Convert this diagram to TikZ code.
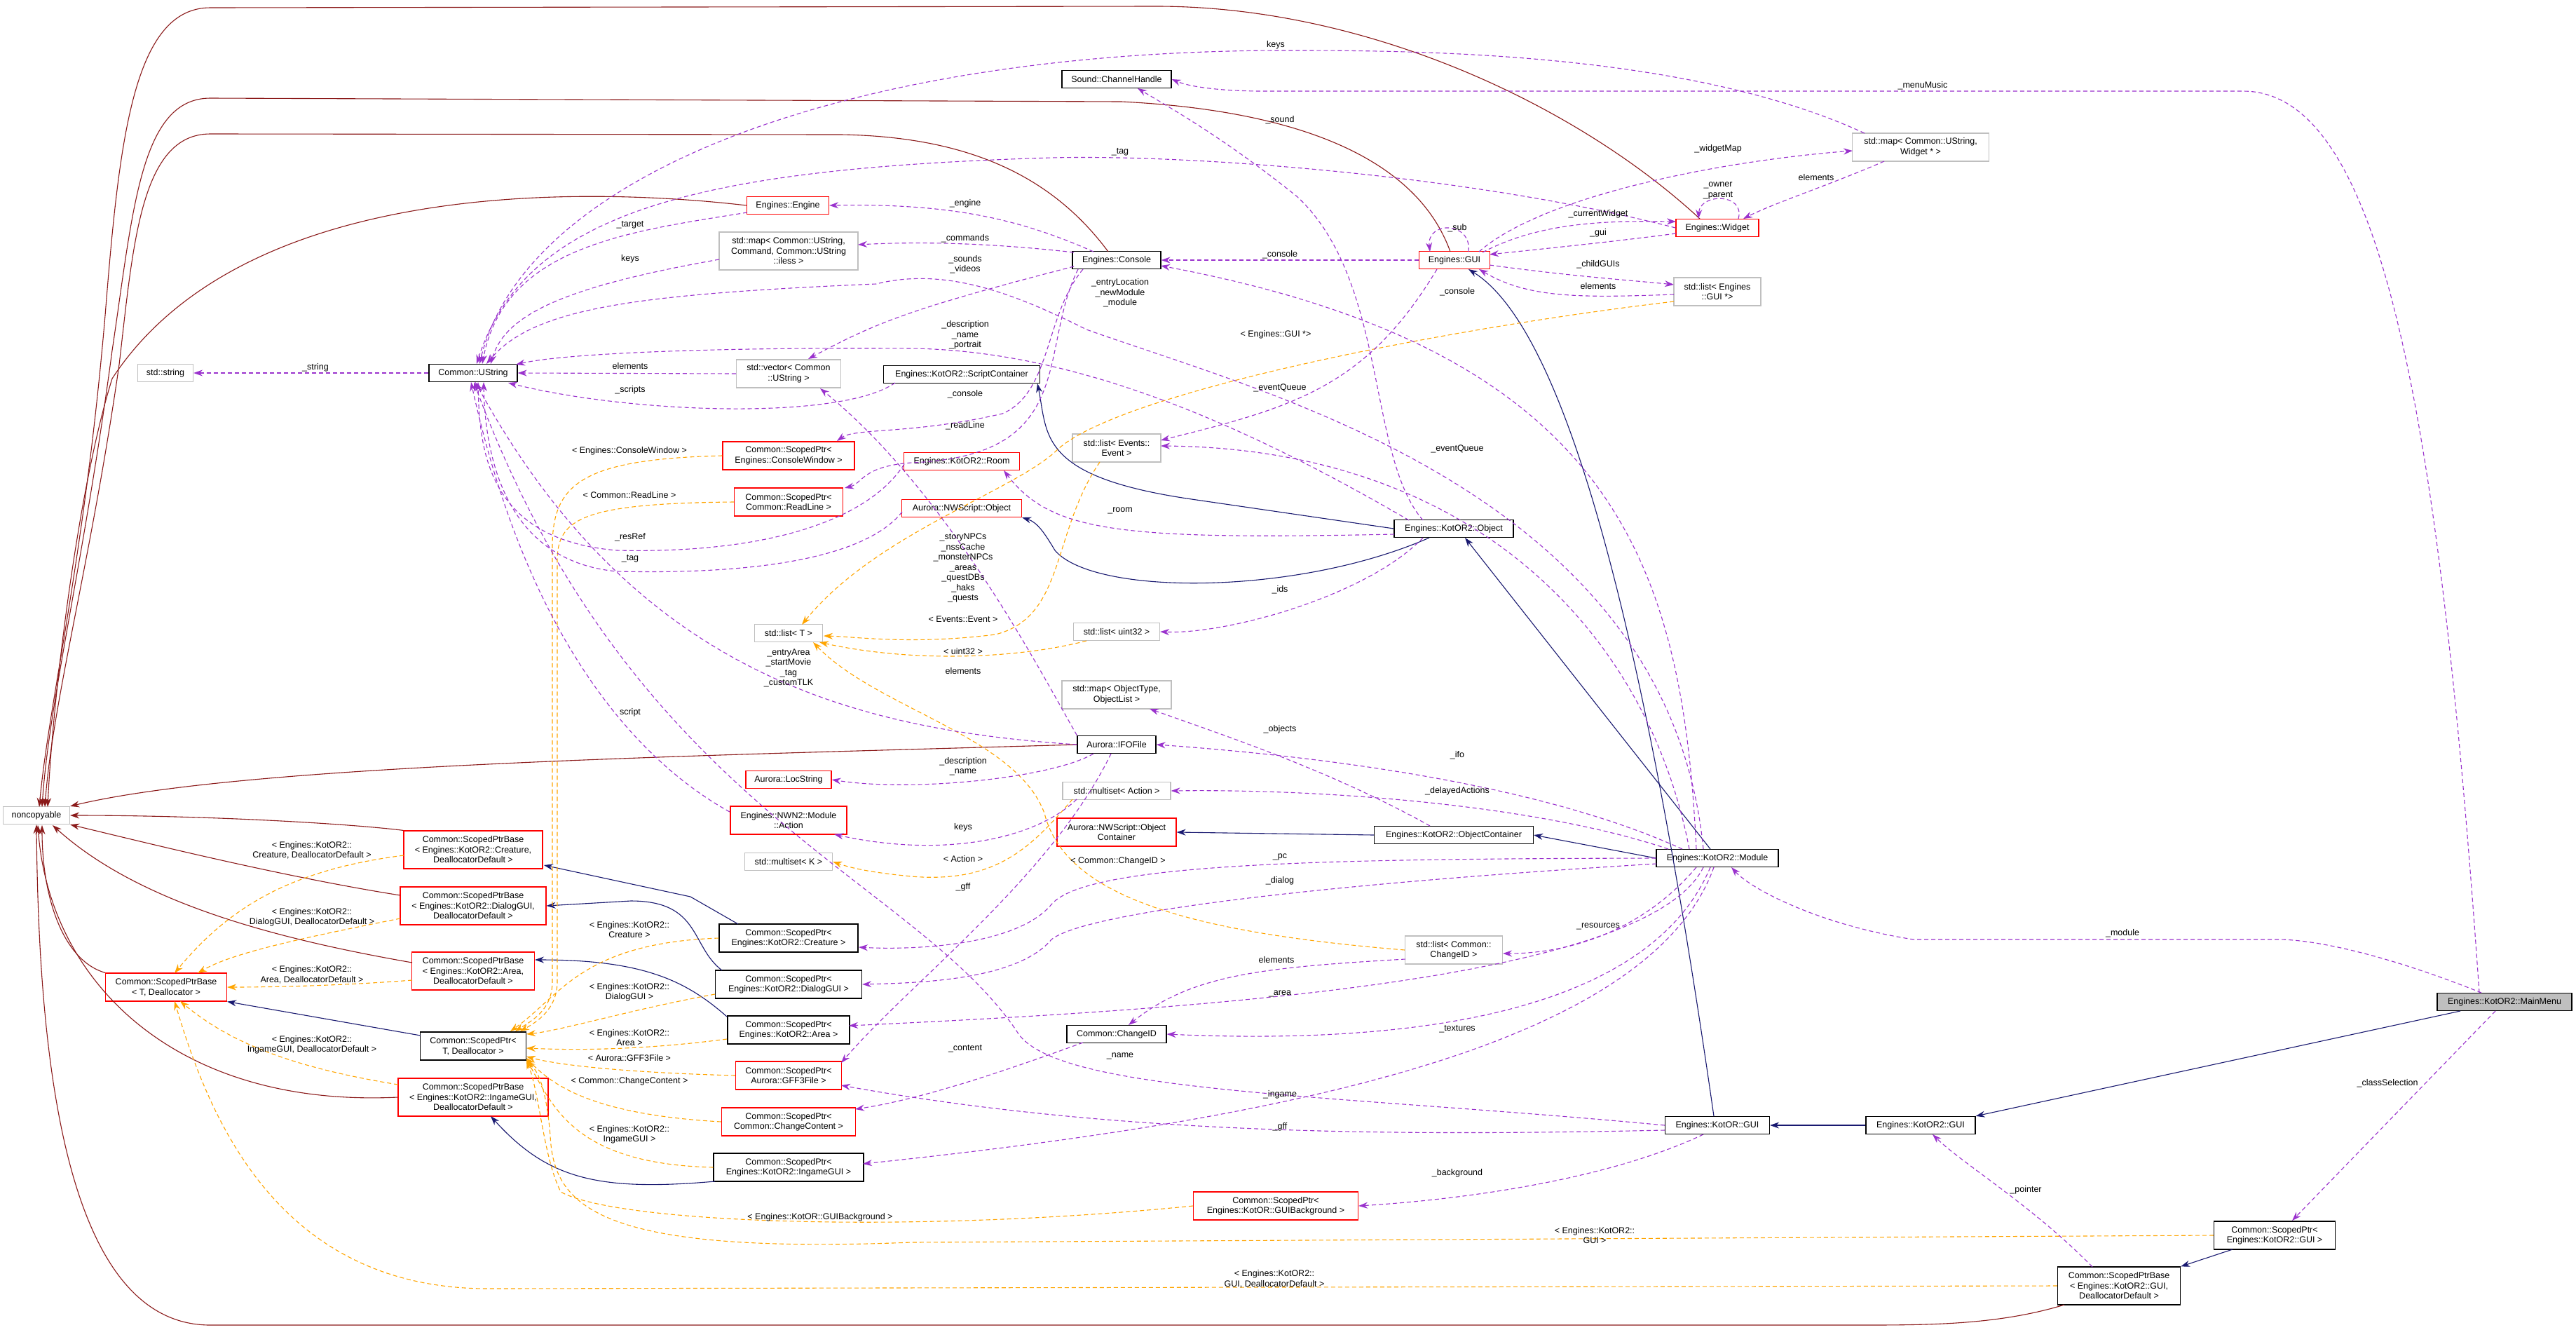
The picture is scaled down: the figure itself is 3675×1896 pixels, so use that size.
\documentclass[tikz,border=0pt]{standalone}
\usepackage{fontspec}
\setmainfont{Liberation Sans}
\usetikzlibrary{arrows.meta}
\definecolor{cnavy}{RGB}{25,25,112}
\definecolor{cdred}{RGB}{139,26,26}
\definecolor{cpurp}{RGB}{154,50,205}
\definecolor{corng}{RGB}{255,165,0}
\definecolor{cgbox}{RGB}{191,191,191}
\newcommand\fsz{\fontsize{12.5}{14.5}\selectfont}
\tikzset{
 bx/.style={draw=black,line width=1.2pt,inner sep=0pt,align=center,font=\fsz,fill=white},
 rbx/.style={bx,draw=red},
 gbx/.style={bx,draw=cgbox},
 mbx/.style={bx,fill=black!25},
 tip/.style={-{Stealth[length=13pt,width=9pt]}},
 ncl/.style={tip,draw=cdred,line width=1.1pt},
 inh/.style={tip,draw=cnavy,line width=1.1pt},
 usel/.style={tip,draw=cpurp,line width=1.1pt,dash pattern=on 6pt off 4pt},
 tpl/.style={tip,draw=corng,line width=1.1pt,dash pattern=on 6pt off 4pt},
 lbl/.style={font=\fsz,align=center,inner sep=0pt}
}
\begin{document}
\begin{tikzpicture}[x=1pt,y=-1pt]
\useasboundingbox[fill=white] (0,0) rectangle (3675,1896);
% nodes
\node[gbx,minimum width=95pt,minimum height=25pt] (nc) at (52,1163) {noncopyable};
\node[gbx,minimum width=79pt,minimum height=25pt] (str) at (236,532) {std::string};
\node[bx,minimum width=126pt,minimum height=25pt] (ustr) at (675,532) {Common::UString};
\node[rbx,minimum width=117pt,minimum height=25pt] (eng) at (1124,293) {Engines::Engine};
\node[gbx,minimum width=198pt,minimum height=54pt] (mapcmd) at (1125,358) {std::map< Common::UString,\\ Command, Common::UString\\ ::iless >};
\node[gbx,minimum width=149pt,minimum height=40pt] (vec) at (1125,533) {std::vector< Common\\ ::UString >};
\node[rbx,minimum width=188pt,minimum height=40pt] (spcw) at (1125,650) {Common::ScopedPtr<\\ Engines::ConsoleWindow >};
\node[rbx,minimum width=155pt,minimum height=40pt] (sprl) at (1125,716) {Common::ScopedPtr<\\ Common::ReadLine >};
\node[gbx,minimum width=97pt,minimum height=25pt] (listT) at (1125,903) {std::list< T >};
\node[rbx,minimum width=122pt,minimum height=25pt] (loc) at (1125,1112) {Aurora::LocString};
\node[rbx,minimum width=166pt,minimum height=40pt] (act) at (1125,1170) {Engines::NWN2::Module\\ ::Action};
\node[gbx,minimum width=125pt,minimum height=25pt] (msK) at (1125,1229) {std::multiset< K >};
\node[bx,minimum width=198pt,minimum height=40pt] (spcr) at (1125,1338) {Common::ScopedPtr<\\ Engines::KotOR2::Creature >};
\node[bx,minimum width=209pt,minimum height=40pt] (spdg) at (1125,1404) {Common::ScopedPtr<\\ Engines::KotOR2::DialogGUI >};
\node[bx,minimum width=174pt,minimum height=40pt] (spar) at (1125,1469) {Common::ScopedPtr<\\ Engines::KotOR2::Area >};
\node[rbx,minimum width=151pt,minimum height=40pt] (spgff) at (1125,1534) {Common::ScopedPtr<\\ Aurora::GFF3File >};
\node[rbx,minimum width=191pt,minimum height=40pt] (spcc) at (1125,1600) {Common::ScopedPtr<\\ Common::ChangeContent >};
\node[bx,minimum width=214pt,minimum height=40pt] (spig) at (1125,1665) {Common::ScopedPtr<\\ Engines::KotOR2::IngameGUI >};
\node[rbx,minimum width=198pt,minimum height=54pt] (spbcr) at (675,1212) {Common::ScopedPtrBase\\ < Engines::KotOR2::Creature,\\ DeallocatorDefault >};
\node[rbx,minimum width=208pt,minimum height=54pt] (spbdg) at (675,1292) {Common::ScopedPtrBase\\ < Engines::KotOR2::DialogGUI,\\ DeallocatorDefault >};
\node[rbx,minimum width=175pt,minimum height=54pt] (spbar) at (675,1385) {Common::ScopedPtrBase\\ < Engines::KotOR2::Area,\\ DeallocatorDefault >};
\node[rbx,minimum width=173pt,minimum height=40pt] (spbT) at (237,1408) {Common::ScopedPtrBase\\ < T, Deallocator >};
\node[bx,minimum width=151pt,minimum height=40pt] (spT) at (675,1492) {Common::ScopedPtr<\\ T, Deallocator >};
\node[rbx,minimum width=214pt,minimum height=54pt] (spbig) at (675,1565) {Common::ScopedPtrBase\\ < Engines::KotOR2::IngameGUI,\\ DeallocatorDefault >};
\node[bx,minimum width=156pt,minimum height=25pt] (snd) at (1593,113) {Sound::ChannelHandle};
\node[bx,minimum width=126pt,minimum height=25pt] (con) at (1593,371) {Engines::Console};
\node[gbx,minimum width=126pt,minimum height=40pt] (lev) at (1593,639) {std::list< Events::\\ Event >};
\node[gbx,minimum width=123pt,minimum height=25pt] (lu32) at (1593,901) {std::list< uint32 >};
\node[gbx,minimum width=156pt,minimum height=40pt] (mapot) at (1593,991) {std::map< ObjectType,\\ ObjectList >};
\node[bx,minimum width=112pt,minimum height=25pt] (ifo) at (1593,1062) {Aurora::IFOFile};
\node[gbx,minimum width=154pt,minimum height=25pt] (msA) at (1593,1128) {std::multiset< Action >};
\node[rbx,minimum width=170pt,minimum height=40pt] (nwoc) at (1593,1187) {Aurora::NWScript::Object\\ Container};
\node[bx,minimum width=142pt,minimum height=25pt] (cid) at (1593,1475) {Common::ChangeID};
\node[rbx,minimum width=235pt,minimum height=40pt] (spbg) at (1820,1720) {Common::ScopedPtr<\\ Engines::KotOR::GUIBackground >};
\node[bx,minimum width=223pt,minimum height=25pt] (sc) at (1372,534) {Engines::KotOR2::ScriptContainer};
\node[rbx,minimum width=165pt,minimum height=25pt] (room) at (1372,658) {Engines::KotOR2::Room};
\node[rbx,minimum width=171pt,minimum height=25pt] (nwo) at (1372,725) {Aurora::NWScript::Object};
\node[rbx,minimum width=101pt,minimum height=25pt] (gui) at (2075,371) {Engines::GUI};
\node[bx,minimum width=170pt,minimum height=25pt] (obj) at (2074,754) {Engines::KotOR2::Object};
\node[bx,minimum width=227pt,minimum height=25pt] (koc) at (2074,1191) {Engines::KotOR2::ObjectContainer};
\node[gbx,minimum width=139pt,minimum height=40pt] (lcid) at (2074,1355) {std::list< Common::\\ ChangeID >};
\node[rbx,minimum width=118pt,minimum height=25pt] (wid) at (2450,325) {Engines::Widget};
\node[gbx,minimum width=124pt,minimum height=40pt] (lgui) at (2450,416) {std::list< Engines\\ ::GUI *>};
\node[bx,minimum width=174pt,minimum height=25pt] (mod) at (2450,1224) {Engines::KotOR2::Module};
\node[bx,minimum width=149pt,minimum height=25pt] (kgui) at (2450,1605) {Engines::KotOR::GUI};
\node[gbx,minimum width=195pt,minimum height=40pt] (mapw) at (2740,210) {std::map< Common::UString,\\ Widget * >};
\node[bx,minimum width=156pt,minimum height=25pt] (k2gui) at (2740,1605) {Engines::KotOR2::GUI};
\node[bx,minimum width=175pt,minimum height=54pt] (spbgui) at (3023,1834) {Common::ScopedPtrBase\\ < Engines::KotOR2::GUI,\\ DeallocatorDefault >};
\node[bx,minimum width=173pt,minimum height=40pt] (spk2) at (3245,1762) {Common::ScopedPtr<\\ Engines::KotOR2::GUI >};
\node[mbx,minimum width=192pt,minimum height=25pt] (mm) at (3573,1429) {Engines::KotOR2::MainMenu};
% ---- noncopyable (dark red)
\draw[ncl] (2425,312) .. controls (2250,150) and (1950,9) .. (1650,9) -- (300,11) .. controls (190,11) and (170,200) .. (150,450) .. controls (120,800) and (70,1000) .. (56,1151);
\draw[ncl] (2069,359) .. controls (2030,250) and (1900,160) .. (1600,145) -- (300,140) .. controls (200,140) and (190,300) .. (160,500) .. controls (120,800) and (70,1000) .. (60,1151);
\draw[ncl] (1581,359) .. controls (1500,250) and (1380,195) .. (1200,192) -- (300,191) .. controls (200,191) and (190,350) .. (170,520) .. controls (130,800) and (75,1000) .. (64,1151);
\draw[ncl] (eng.west) .. controls (850,268) and (350,250) .. (160,540) .. controls (110,700) and (75,1000) .. (68,1151);
\draw[ncl] (ifo.west) .. controls (1000,1078) and (350,1090) .. (nc.north east);
\draw[ncl] (spbcr.north west) .. controls (500,1175) and (300,1163) .. (nc.east);
\draw[ncl] (571,1277) .. controls (400,1250) and (200,1200) .. (nc.south east);
\draw[ncl] (588,1373) .. controls (400,1340) and (200,1290) .. (75,1177);
\draw[ncl] (spbT.north west) .. controls (90,1370) and (60,1280) .. (60,1177);
\draw[ncl] (spbig.west) .. controls (250,1580) and (70,1400) .. (54,1177);
\draw[ncl] (2945,1861) .. controls (2850,1890) and (2750,1890) .. (2650,1890) -- (300,1890) .. controls (90,1890) and (55,1500) .. (nc.south);
% ---- inheritance (navy)
\draw[inh] (3510,1442) -- (k2gui.north east);
\draw[inh] (k2gui.west) -- (kgui.east);
\draw[inh] (2445,1592) .. controls (2360,1000) and (2250,480) .. (2095,384);
\draw[inh] (2440,1211) -- (2090,767);
\draw[inh] (mod.west) -- (koc.east);
\draw[inh] (koc.west) -- (nwoc.east);
\draw[inh] (obj.west) -- (1700,712) .. controls (1480,680) and (1495,620) .. (1480,547);
\draw[inh] (2039,767) .. controls (1850,850) and (1560,850) .. (1505,785) .. controls (1490,760) and (1480,745) .. (nwo.south east);
\draw[inh] (1053,1318) -- (985,1279) -- (776,1234);
\draw[inh] (1030,1384) .. controls (985,1350) and (1000,1285) .. (900,1285) -- (spbdg.east);
\draw[inh] (1037,1450) .. controls (980,1400) and (920,1369) .. (763,1369);
\draw[inh] (600,1477) -- (spbT.south east);
\draw[inh] (1020,1685) .. controls (850,1700) and (780,1680) .. (700,1592);
\draw[inh] (3185,1782) -- (spbgui.north east);
% ---- templates (orange)
\draw[tpl] (spcw.west) .. controls (830,655) and (788,690) .. (788,780) -- (788,1400) .. controls (788,1440) and (760,1455) .. (735,1471);
\draw[tpl] (sprl.west) .. controls (830,718) and (795,740) .. (795,800) -- (795,1400) .. controls (795,1440) and (765,1458) .. (742,1471);
\draw[tpl] (spcr.west) .. controls (830,1345) and (800,1420) .. (728,1471);
\draw[tpl] (1020,1418) .. controls (900,1440) and (800,1470) .. (751,1475);
\draw[tpl] (1037,1482) .. controls (900,1500) and (800,1497) .. (751,1495);
\draw[tpl] (spgff.west) .. controls (900,1530) and (800,1520) .. (751,1507);
\draw[tpl] (spcc.west) .. controls (850,1590) and (790,1550) .. (751,1509);
\draw[tpl] (spig.west) .. controls (820,1660) and (790,1580) .. (751,1511);
\draw[tpl] (spbg.west) .. controls (1300,1760) and (880,1745) .. (800,1700) .. controls (775,1650) and (770,1560) .. (751,1512);
\draw[tpl] (spk2.west) -- (1300,1772) .. controls (850,1790) and (790,1720) .. (785,1620) .. controls (780,1560) and (770,1530) .. (751,1513);
\draw[tpl] (576,1220) .. controls (420,1240) and (330,1290) .. (249,1388);
\draw[tpl] (571,1310) .. controls (420,1340) and (330,1360) .. (282,1388);
\draw[tpl] (588,1398) .. controls (500,1405) and (400,1408) .. (spbT.east);
\draw[tpl] (568,1547) .. controls (400,1520) and (320,1480) .. (257,1428);
\draw[tpl] (spbgui.west) -- (700,1838) .. controls (400,1840) and (300,1600) .. (249,1428);
\draw[tpl] (2388,430) .. controls (2050,470) and (1600,560) .. (1510,640) .. controls (1450,700) and (1250,760) .. (1144,891);
\draw[tpl] (1569,659) .. controls (1500,760) and (1520,880) .. (1420,905) .. controls (1300,920) and (1220,908) .. (1175,907);
\draw[tpl] (1550,914) .. controls (1450,940) and (1300,945) .. (1169,916);
\draw[tpl] (1530,1140) .. controls (1470,1210) and (1420,1260) .. (1300,1250) .. controls (1250,1245) and (1220,1240) .. (msK.east);
\draw[tpl] (lcid.west) .. controls (1700,1330) and (1520,1280) .. (1490,1160) .. controls (1450,1050) and (1250,1010) .. (1160,916);
% ---- usage (purple)
\draw[usel] (ustr.west) -- (str.east);
\draw[usel] (vec.west) -- (ustr.east);
\draw[usel] (1277,546) .. controls (1200,600) and (900,590) .. (725,546);
\draw[usel] (1066,303) .. controls (900,330) and (720,350) .. (688,519);
\draw[usel] (1026,370) .. controls (800,410) and (720,450) .. (700,519);
\draw[usel] (1532,360) .. controls (1400,345) and (1300,345) .. (1224,349);
\draw[usel] (1560,359) .. controls (1450,310) and (1350,290) .. (eng.east);
\draw[usel] (1532,380) .. controls (1300,440) and (1250,460) .. (1153,512);
\draw[usel] (wid.west) .. controls (2100,250) and (1700,220) .. (1500,225) .. controls (1000,240) and (750,300) .. (680,519);
\draw[usel] (2660,190) .. controls (2400,70) and (2000,72) .. (1820,72) .. controls (1200,75) and (750,250) .. (684,519);
\draw[usel] (3537,1416) .. controls (3480,600) and (3400,130) .. (3200,130) -- (1800,130) .. controls (1750,130) and (1700,125) .. (snd.east);
\draw[usel] (2030,742) .. controls (1950,650) and (1980,400) .. (1850,280) .. controls (1750,200) and (1680,160) .. (1623,126);
\draw[usel] (gui.west) -- (con.east);
\draw[usel] (2420,1211) .. controls (2400,800) and (2300,500) .. (1656,379);
\draw[usel] (2095,359) .. controls (2100,315) and (2035,315) .. (2040,359);
\draw[usel] (2115,360) .. controls (2200,315) and (2300,315) .. (2391,316);
\draw[usel] (2391,333) .. controls (2300,345) and (2200,355) .. (2125,363);
\draw[usel] (2110,359) .. controls (2200,280) and (2450,230) .. (2643,215);
\draw[usel] (2480,312) .. controls (2490,275) and (2425,275) .. (2423,312);
\draw[usel] (2688,230) .. controls (2620,260) and (2530,290) .. (2487,312);
\draw[usel] (2125,378) .. controls (2250,395) and (2330,400) .. (2388,406);
\draw[usel] (2388,420) .. controls (2250,425) and (2180,425) .. (2110,384);
\draw[usel] (2010,742) .. controls (1800,620) and (1550,500) .. (1300,497) .. controls (1000,495) and (800,505) .. (736,520);
\draw[usel] (2430,1211) .. controls (2380,700) and (1800,560) .. (1550,470) .. controls (1450,420) and (1350,380) .. (1250,405) .. controls (900,420) and (760,440) .. (694,519);
\draw[usel] (1545,384) .. controls (1490,450) and (1500,560) .. (1430,590) .. controls (1300,620) and (1220,610) .. (1194,629);
\draw[usel] (1538,384) .. controls (1480,500) and (1540,650) .. (1300,660) .. controls (1230,665) and (1230,690) .. (1205,696);
\draw[usel] (2050,384) .. controls (1950,550) and (1850,580) .. (1656,628);
\draw[usel] (2410,1211) .. controls (2350,900) and (2100,640) .. (1656,636);
\draw[usel] (1989,762) .. controls (1600,770) and (1500,760) .. (1432,671);
\draw[usel] (2030,767) .. controls (1950,850) and (1750,905) .. (lu32.east);
\draw[usel] (ifo.west) .. controls (1200,1040) and (900,950) .. (678,545);
\draw[usel] (1041,1158) .. controls (900,1080) and (750,900) .. (672,545);
\draw[usel] (1290,662) .. controls (1240,740) and (1100,790) .. (880,785) .. controls (700,770) and (684,650) .. (682,545);
\draw[usel] (1287,730) .. controls (1240,790) and (1100,820) .. (880,815) .. controls (720,800) and (692,650) .. (690,545);
\draw[usel] (ifo.north west) .. controls (1480,950) and (1350,700) .. (1170,554);
\draw[usel] (2040,1178) .. controls (1900,1100) and (1750,1050) .. (1640,1011);
\draw[usel] (2400,1211) .. controls (2200,1120) and (1900,1080) .. (ifo.east);
\draw[usel] (1560,1075) .. controls (1500,1110) and (1300,1130) .. (loc.east);
\draw[usel] (2380,1211) .. controls (2200,1150) and (1900,1125) .. (msA.east);
\draw[usel] (1536,1140) .. controls (1480,1195) and (1350,1225) .. (1190,1190);
\draw[usel] (mod.west) .. controls (1900,1225) and (1550,1230) .. (1500,1290) .. controls (1450,1350) and (1300,1355) .. (1225,1351);
\draw[usel] (2363,1232) .. controls (1900,1260) and (1550,1300) .. (1500,1340) .. controls (1450,1400) and (1300,1402) .. (spdg.east);
\draw[usel] (2420,1237) .. controls (2350,1320) and (2250,1360) .. (2144,1360);
\draw[usel] (2005,1368) .. controls (1800,1380) and (1700,1390) .. (1610,1462);
\draw[usel] (2430,1237) .. controls (2350,1400) and (1700,1440) .. (1211,1463);
\draw[usel] (2440,1237) .. controls (2350,1450) and (2000,1490) .. (cid.east);
\draw[usel] (1545,1487) .. controls (1400,1540) and (1300,1570) .. (1220,1582);
\draw[usel] (kgui.west) .. controls (1900,1560) and (1500,1560) .. (1450,1470) .. controls (1300,1250) and (900,1150) .. (676,545);
\draw[usel] (2445,1237) .. controls (2350,1500) and (1800,1600) .. (1231,1660);
\draw[usel] (2375,1612) .. controls (2000,1620) and (1600,1620) .. (1200,1548);
\draw[usel] (1585,1075) .. controls (1500,1250) and (1300,1400) .. (1200,1516);
\draw[usel] (2430,1618) .. controls (2300,1680) and (2100,1710) .. (spbg.east);
\draw[usel] (3540,1416) .. controls (3400,1360) and (3300,1340) .. (3250,1340) -- (2730,1340) .. controls (2600,1320) and (2500,1270) .. (2470,1237);
\draw[usel] (3560,1442) -- (3270,1741);
\draw[usel] (2985,1807) .. controls (2900,1720) and (2800,1660) .. (2757,1618);
% ---- labels
\node[lbl] at (450,524) {\_string};
\node[lbl] at (899,522) {elements};
\node[lbl] at (899,556) {\_scripts};
\node[lbl] at (899,321) {\_target};
\node[lbl] at (899,369) {keys};
\node[lbl] at (1377,340) {\_commands};
\node[lbl] at (1377,290) {\_engine};
\node[lbl] at (1377,377) {\_sounds\\\_videos};
\node[lbl] at (1598,217) {\_tag};
\node[lbl] at (1820,64) {keys};
\node[lbl] at (2743,122) {\_menuMusic};
\node[lbl] at (1826,171) {\_sound};
\node[lbl] at (1826,363) {\_console};
\node[lbl] at (2079,416) {\_console};
\node[lbl] at (2079,325) {\_sub};
\node[lbl] at (2280,305) {\_currentWidget};
\node[lbl] at (2280,332) {\_gui};
\node[lbl] at (2451,212) {\_widgetMap};
\node[lbl] at (2451,272) {\_owner\\\_parent};
\node[lbl] at (2591,253) {elements};
\node[lbl] at (2280,377) {\_childGUIs};
\node[lbl] at (2280,408) {elements};
\node[lbl] at (1377,478) {\_description\\\_name\\\_portrait};
\node[lbl] at (1598,418) {\_entryLocation\\\_newModule\\\_module};
\node[lbl] at (1377,562) {\_console};
\node[lbl] at (1377,607) {\_readLine};
\node[lbl] at (1826,553) {\_eventQueue};
\node[lbl] at (2079,640) {\_eventQueue};
\node[lbl] at (1598,728) {\_room};
\node[lbl] at (1826,841) {\_ids};
\node[lbl] at (1125,953) {\_entryArea\\\_startMovie\\\_tag\\\_customTLK};
\node[lbl] at (899,1016) {script};
\node[lbl] at (899,766) {\_resRef};
\node[lbl] at (899,797) {\_tag};
\node[lbl] at (1374,810) {\_storyNPCs\\\_nssCache\\\_monsterNPCs\\\_areas\\\_questDBs\\\_haks\\\_quests};
\node[lbl] at (1374,957) {elements};
\node[lbl] at (1826,1040) {\_objects};
\node[lbl] at (2079,1077) {\_ifo};
\node[lbl] at (1374,1093) {\_description\\\_name};
\node[lbl] at (2079,1128) {\_delayedActions};
\node[lbl] at (1374,1180) {keys};
\node[lbl] at (1826,1222) {\_pc};
\node[lbl] at (1826,1256) {\_dialog};
\node[lbl] at (2280,1321) {\_resources};
\node[lbl] at (1821,1369) {elements};
\node[lbl] at (1826,1417) {\_area};
\node[lbl] at (2079,1468) {\_textures};
\node[lbl] at (1377,1496) {\_content};
\node[lbl] at (1598,1506) {\_name};
\node[lbl] at (1826,1561) {\_ingame};
\node[lbl] at (1826,1607) {\_gff};
\node[lbl] at (1374,1265) {\_gff};
\node[lbl] at (2079,1673) {\_background};
\node[lbl] at (3028,1331) {\_module};
\node[lbl] at (3406,1545) {\_classSelection};
\node[lbl] at (2890,1697) {\_pointer};
\node[lbl] at (898,643) {< Engines::ConsoleWindow >};
\node[lbl] at (898,706) {< Common::ReadLine >};
\node[lbl] at (898,1326) {< Engines::KotOR2::\\Creature >};
\node[lbl] at (898,1415) {< Engines::KotOR2::\\DialogGUI >};
\node[lbl] at (898,1480) {< Engines::KotOR2::\\Area >};
\node[lbl] at (898,1509) {< Aurora::GFF3File >};
\node[lbl] at (898,1542) {< Common::ChangeContent >};
\node[lbl] at (898,1618) {< Engines::KotOR2::\\IngameGUI >};
\node[lbl] at (1170,1736) {< Engines::KotOR::GUIBackground >};
\node[lbl] at (2275,1762) {< Engines::KotOR2::\\GUI >};
\node[lbl] at (445,1213) {< Engines::KotOR2::\\Creature, DeallocatorDefault >};
\node[lbl] at (445,1308) {< Engines::KotOR2::\\DialogGUI, DeallocatorDefault >};
\node[lbl] at (445,1390) {< Engines::KotOR2::\\Area, DeallocatorDefault >};
\node[lbl] at (445,1490) {< Engines::KotOR2::\\IngameGUI, DeallocatorDefault >};
\node[lbl] at (1818,1824) {< Engines::KotOR2::\\GUI, DeallocatorDefault >};
\node[lbl] at (1820,477) {< Engines::GUI *>};
\node[lbl] at (1374,883) {< Events::Event >};
\node[lbl] at (1374,929) {< uint32 >};
\node[lbl] at (1374,1225) {< Action >};
\node[lbl] at (1595,1228) {< Common::ChangeID >};
\end{tikzpicture}
\end{document}
